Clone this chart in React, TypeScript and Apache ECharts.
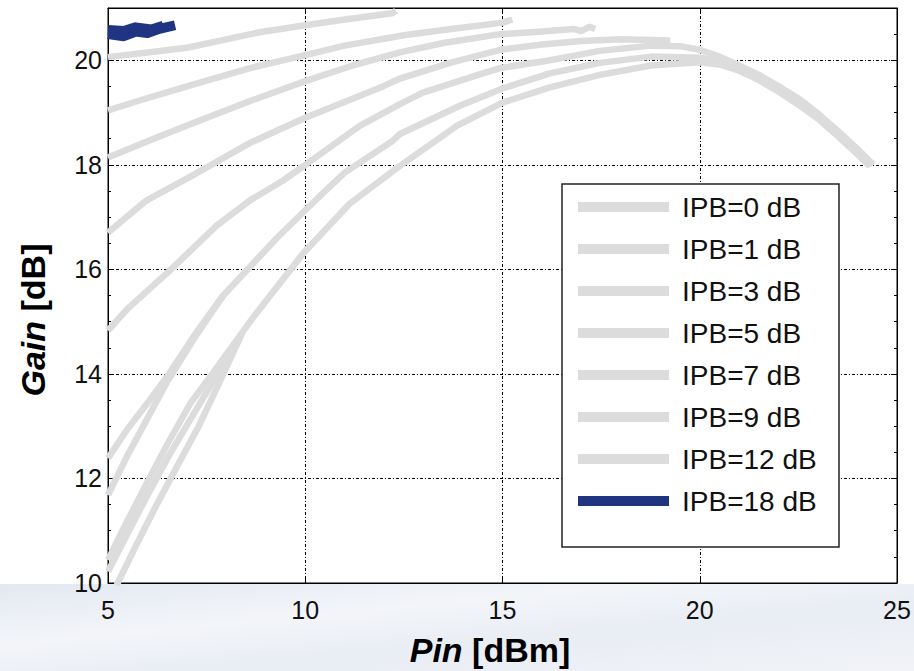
import React, { useEffect, useRef } from "react";
import * as echarts from "echarts";

// ---------- tick labels ----------
const xTicks = [5, 10, 15, 20, 25];
const yTicks = [10, 12, 14, 16, 18, 20];

// ---------- legend names ----------
const ipbNames = [
  "IPB=0 dB",
  "IPB=1 dB",
  "IPB=3 dB",
  "IPB=5 dB",
  "IPB=7 dB",
  "IPB=9 dB",
  "IPB=12 dB",
  "IPB=18 dB",
];

// ---------- traces (Pin [dBm], Gain [dB]) ----------
// IPB = 0 dB (three traces that merge)
const ipb0aX = [5, 5.5, 6, 6.5, 7.1, 7.66, 8.68, 9.94, 11.13, 12.4, 13.85, 15, 16.2, 17.47, 18.76, 20, 20.5, 21, 21.5, 22, 22.5, 23, 23.5, 24, 24.3];
const ipb0aY = [10.44, 11.2, 11.93, 12.65, 13.45, 14.02, 15.08, 16.3, 17.26, 17.98, 18.75, 19.19, 19.48, 19.72, 19.9, 19.96, 19.92, 19.8, 19.62, 19.4, 19.15, 18.88, 18.55, 18.2, 17.98];
const ipb0bX = [5, 5.5, 6, 6.5, 7.08, 7.66, 8.3];
const ipb0bY = [10.22, 10.95, 11.68, 12.38, 13.12, 13.85, 14.68];
const ipb0cX = [5.22, 5.7, 6.2, 6.8, 7.3, 7.8, 8.4];
const ipb0cY = [9.96, 10.7, 11.45, 12.3, 13.0, 13.8, 14.78];

// IPB = 1 dB (two traces that merge)
const ipb1aX = [5, 5.5, 6.06, 6.5, 7.2, 7.92, 8.6, 9.28, 10.3, 11, 12.22, 12.4, 13.92, 15, 16.2, 17.47, 18.76, 20, 20.5, 21, 21.5, 22, 22.5, 23, 23.5, 24, 24.35];
const ipb1aY = [12.39, 12.95, 13.5, 13.95, 14.75, 15.5, 16.05, 16.6, 17.35, 17.85, 18.46, 18.59, 19.13, 19.46, 19.75, 19.95, 20.07, 20.05, 19.98, 19.84, 19.66, 19.44, 19.2, 18.92, 18.6, 18.25, 17.98];
const ipb1bX = [5, 5.5, 6, 6.5, 7.2, 7.92];
const ipb1bY = [11.68, 12.45, 13.15, 13.85, 14.7, 15.5];

// IPB = 3 dB
const ipb3X = [5, 5.5, 6.57, 7.76, 8.6, 9.44, 10, 11.39, 12.4, 12.98, 14.5, 14.94, 16.2, 17.47, 18.76, 19.5, 20, 20.5, 21, 21.5, 22, 22.5, 23, 23.5, 24, 24.4];
const ipb3Y = [14.83, 15.25, 15.98, 16.84, 17.32, 17.7, 18.0, 18.75, 19.16, 19.38, 19.75, 19.85, 20.0, 20.18, 20.28, 20.27, 20.2, 20.07, 19.9, 19.72, 19.5, 19.27, 18.98, 18.65, 18.3, 18.0];

// IPB = 5 dB
const ipb5X = [5, 5.5, 5.98, 7.08, 8.6, 10, 11.97, 12.4, 13.67, 14.94, 16, 17, 18, 19.25];
const ipb5Y = [16.7, 17.02, 17.32, 17.77, 18.42, 18.9, 19.5, 19.65, 19.95, 20.2, 20.3, 20.37, 20.4, 20.38];

// IPB = 7 dB
const ipb7X = [5, 6, 7.1, 8.6, 10, 11.2, 12.4, 13.5, 14.94, 16, 16.8, 17, 17.2, 17.35];
const ipb7Y = [18.14, 18.45, 18.78, 19.22, 19.6, 19.9, 20.15, 20.33, 20.5, 20.55, 20.6, 20.56, 20.64, 20.6];

// IPB = 9 dB
const ipb9X = [5, 5.8, 7, 8.6, 10, 11, 12.5, 13.7, 15, 15.25];
const ipb9Y = [19.04, 19.23, 19.5, 19.85, 20.1, 20.28, 20.48, 20.6, 20.72, 20.78];

// IPB = 12 dB
const ipb12X = [5, 6, 7, 8, 8.8, 10, 11, 12.2, 12.3];
const ipb12Y = [20.06, 20.15, 20.24, 20.4, 20.53, 20.67, 20.78, 20.9, 20.95];

// IPB = 18 dB (two overlapping traces)
const ipb18aX = [5.0, 5.4, 5.7, 6.0, 6.3, 6.7];
const ipb18aY = [20.5, 20.46, 20.55, 20.52, 20.6, 20.67];
const ipb18bX = [5.0, 5.4, 5.7, 6.1, 6.4];
const ipb18bY = [20.58, 20.56, 20.63, 20.59, 20.66];

const GRAY = "#dcdcdc";
const BLUE = "#1f3581";
const FONT = "'Liberation Sans', Arial, Helvetica, sans-serif";

const zip = (xs: number[], ys: number[]) => xs.map((x, i) => [x, ys[i]]);

const traces = [
  { name: ipbNames[0], x: ipb0aX, y: ipb0aY, color: GRAY, w: 6.5 },
  { name: ipbNames[0], x: ipb0bX, y: ipb0bY, color: GRAY, w: 6.5 },
  { name: ipbNames[0], x: ipb0cX, y: ipb0cY, color: GRAY, w: 6.5 },
  { name: ipbNames[1], x: ipb1aX, y: ipb1aY, color: GRAY, w: 6.5 },
  { name: ipbNames[1], x: ipb1bX, y: ipb1bY, color: GRAY, w: 6.5 },
  { name: ipbNames[2], x: ipb3X, y: ipb3Y, color: GRAY, w: 6.5 },
  { name: ipbNames[3], x: ipb5X, y: ipb5Y, color: GRAY, w: 6.5 },
  { name: ipbNames[4], x: ipb7X, y: ipb7Y, color: GRAY, w: 6.5 },
  { name: ipbNames[5], x: ipb9X, y: ipb9Y, color: GRAY, w: 6.5 },
  { name: ipbNames[6], x: ipb12X, y: ipb12Y, color: GRAY, w: 6.5 },
  { name: ipbNames[7], x: ipb18aX, y: ipb18aY, color: BLUE, w: 10 },
  { name: ipbNames[7], x: ipb18bX, y: ipb18bY, color: BLUE, w: 10 },
];

const dotted = { color: "#000", width: 1, type: [3, 2, 1, 2] as number[] };

export default function App() {
  const ref = useRef<HTMLDivElement>(null);

  useEffect(() => {
    document.body.style.margin = "0";
    if (!ref.current) return;
    const chart = echarts.init(ref.current, undefined, { renderer: "svg" });

    const xAxisBase = {
      type: "value",
      min: xTicks[0],
      max: xTicks[xTicks.length - 1],
      interval: xTicks[1] - xTicks[0],
    };
    const yAxisBase = {
      type: "value",
      min: yTicks[0],
      max: 21,
      interval: yTicks[1] - yTicks[0],
    };

    const titleRich = {
      i: { fontFamily: FONT, fontSize: 34, fontWeight: "bold", fontStyle: "italic", fill: "#000" },
      b: { fontFamily: FONT, fontSize: 34, fontWeight: "bold", fill: "#000" },
    };

    chart.setOption({
      animation: false,
      backgroundColor: "#ffffff",
      grid: {
        left: 108,
        right: 17,
        top: 8,
        bottom: 88,
        show: true,
        backgroundColor: "#ffffff",
        borderColor: "#000",
        borderWidth: 1,
      },
      legend: {
        orient: "vertical",
        left: 578,
        top: 193,
        padding: 0,
        itemWidth: 91,
        itemHeight: 10,
        itemGap: 14,
        icon: "rect",
        data: ipbNames,
        selectedMode: false,
        textStyle: {
          fontFamily: FONT,
          fontSize: 28,
          color: "#111",
          lineHeight: 28,
          padding: [0, 0, 0, 8],
        },
      },
      xAxis: [
        {
          ...xAxisBase,
          position: "bottom",
          axisLine: { show: true, lineStyle: { color: "#000", width: 1 } },
          axisTick: { show: true, inside: true, length: 6, lineStyle: { color: "#000" } },
          axisLabel: { fontFamily: FONT, fontSize: 25, color: "#111", margin: 14 },
          splitLine: { show: true, lineStyle: dotted },
        },
        {
          ...xAxisBase,
          position: "top",
          axisLine: { show: true, lineStyle: { color: "#000", width: 1 } },
          axisTick: { show: true, inside: true, length: 6, lineStyle: { color: "#000" } },
          axisLabel: { show: false },
          splitLine: { show: false },
        },
      ],
      yAxis: [
        {
          ...yAxisBase,
          position: "left",
          axisLine: { show: true, lineStyle: { color: "#000", width: 1 } },
          axisTick: { show: true, inside: true, length: 6, lineStyle: { color: "#000" } },
          minorTick: { show: true, splitNumber: 4, length: 3, lineStyle: { color: "#000" } },
          axisLabel: {
            fontFamily: FONT,
            fontSize: 25,
            color: "#111",
            margin: 6,
            formatter: (v: number) => (yTicks.indexOf(v) >= 0 ? String(v) : ""),
          },
          splitLine: { show: true, lineStyle: dotted },
        },
        {
          ...yAxisBase,
          position: "right",
          axisLine: { show: true, lineStyle: { color: "#000", width: 1 } },
          axisTick: { show: true, inside: true, length: 6, lineStyle: { color: "#000" } },
          minorTick: { show: true, splitNumber: 4, length: 3, lineStyle: { color: "#000" } },
          axisLabel: { show: false },
          splitLine: { show: false },
        },
      ],
      graphic: [
        {
          type: "rect",
          z: -10,
          silent: true,
          shape: { x: 0, y: 584, width: 914, height: 87 },
          style: {
            fill: new echarts.graphic.LinearGradient(0, 0, 1, 1, [
              { offset: 0, color: "#e3e8f1" },
              { offset: 0.35, color: "#f3f5f9" },
              { offset: 0.6, color: "#e9edf4" },
              { offset: 1, color: "#f1f3f7" },
            ]),
          },
        },
        {
          type: "rect",
          z: 3,
          silent: true,
          shape: { x: 562, y: 184, width: 277, height: 363 },
          style: { fill: "#ffffff", stroke: "#222", lineWidth: 1.5 },
        },
        {
          type: "text",
          z: 5,
          x: 33,
          y: 320,
          rotation: Math.PI / 2,
          silent: true,
          style: {
            text: "{i|Gain }{b|[dB]}",
            align: "center",
            verticalAlign: "middle",
            fill: "#000",
            rich: titleRich,
          },
        },
        {
          type: "text",
          z: 5,
          x: 490,
          y: 650,
          silent: true,
          style: {
            text: "{i|Pin }{b|[dBm]}",
            align: "center",
            verticalAlign: "middle",
            fill: "#000",
            rich: titleRich,
          },
        },
      ],
      series: traces.map((t) => ({
        type: "line",
        name: t.name,
        xAxisIndex: 0,
        yAxisIndex: 0,
        data: zip(t.x, t.y),
        showSymbol: false,
        symbol: "none",
        smooth: false,
        clip: true,
        z: t.color === BLUE ? 3 : 2,
        itemStyle: { color: t.color },
        lineStyle: { color: t.color, width: t.w, cap: "butt", join: "round" },
        emphasis: { disabled: true },
      })),
    });

    return () => chart.dispose();
  }, []);

  return <div ref={ref} style={{ width: 914, height: 671 }} />;
}
